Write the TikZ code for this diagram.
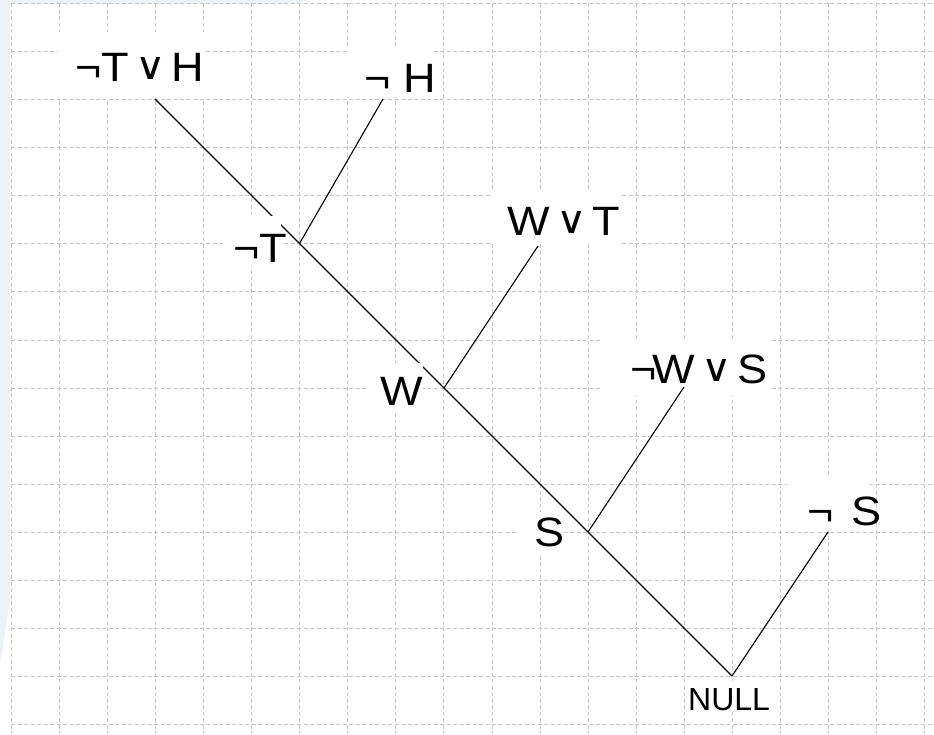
\documentclass[tikz,border=0pt]{standalone}
\usepackage{fontspec}
\setmainfont{Liberation Sans}
\newfontfamily\dvs{DejaVu Sans}
\newcommand{\orsym}{\hspace{6pt}\raisebox{2pt}{\dvs\fontsize{38}{38}\selectfont ∨}\hspace{5pt}}
\newcommand{\lb}[1]{\scalebox{1.1}[1]{\fontsize{41}{41}\selectfont #1}}
\definecolor{gridgray}{HTML}{C8C8C8}
\definecolor{bgblue}{HTML}{EEF2F7}
\begin{document}
\begin{tikzpicture}[x=1pt,y=-1pt,
  gridline/.style={draw=gridgray, line width=0.9pt, dash pattern=on 4pt off 2.5pt},
  edge/.style={draw=black, line width=1.1pt},
  lbl/.style={inner sep=0pt, anchor=base west},
  labelbox/.style={fill=white}
]
\useasboundingbox (0,0) rectangle (934,734);
\fill[white] (0,0) rectangle (934,734);
\fill[bgblue] (0,0) -- (310,0) -- (290,4) -- (10,4) -- (10,600) -- (0,665) -- cycle;
% grid
\foreach \i in {0,...,19} \draw[gridline] ({11+48.1*\i},3) -- ({11+48.1*\i},734);
\foreach \j in {0,...,15} \draw[gridline] (11,{3.3+48.1*\j}) -- (934,{3.3+48.1*\j});
% junctions and tips
\coordinate (top) at (155,99);
\coordinate (j1) at (299.5,243.5);
\coordinate (j2) at (444,388);
\coordinate (j3) at (588,532);
\coordinate (nul) at (732,676);
\coordinate (th) at (383,99);
\coordinate (twt) at (538,246);
\coordinate (tws) at (684,387);
\coordinate (ts) at (828,532);
% main line
\draw[edge] (top) -- (j1) -- (j2) -- (j3) -- (nul);
% label boxes
\fill[labelbox] (58,32) rectangle (205,98);
\fill[labelbox] (347,48) rectangle (433,97);
\fill[labelbox] (224,216) rectangle (281,266);
\fill[labelbox] (490,190) rectangle (620,244);
\fill[labelbox] (368,363) rectangle (423,411);
\fill[labelbox] (600,340) rectangle (770,396);
\fill[labelbox] (516,512) rectangle (561,555);
\fill[labelbox] (787,478) rectangle (870,530);
\fill[labelbox] (688,681) rectangle (770,712);
% labels
\node[lbl] (l1) at (75,81) {\lb{¬T\orsym{}H}};
\node[lbl] (l2) at (364,92) {\lb{¬ H}};
\node[lbl] (l3) at (233,262) {\lb{¬T}};
\node[lbl] (l4) at (507,235) {\lb{W\orsym{}T}};
\node[lbl] (l5) at (380,405) {\lb{W}};
\node[lbl] (l6) at (630,383) {\lb{¬\hspace{-4pt}W\orsym{}S}};
\node[lbl] (l7) at (534,546) {\lb{S}};
\node[lbl] (l8) at (807,525) {\lb{¬\hspace{5pt} S}};
\node[lbl] (l9) at (688,710) {\fontsize{32}{32}\selectfont NULL};
% branch lines
\draw[edge] (j1) -- (th);
\draw[edge] (j2) -- (twt);
\draw[edge] (j3) -- (tws);
\draw[edge] (nul) -- (ts);
\end{tikzpicture}
\end{document}
